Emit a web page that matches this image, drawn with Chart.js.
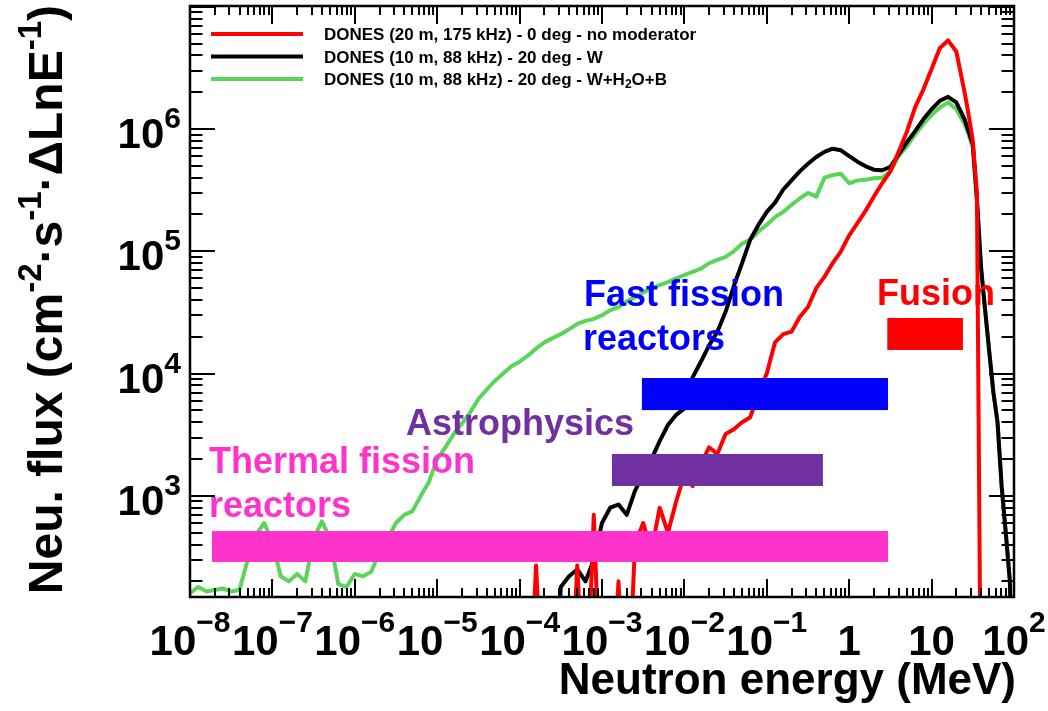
<!DOCTYPE html>
<html>
<head>
<meta charset="utf-8">
<script src="https://cdn.jsdelivr.net/npm/chart.js@4.4.0/dist/chart.umd.min.js"></script>
<style>
  body { margin: 0; background: #fff; }
</style>
</head>
<body>
<canvas id="chart" width="1048" height="711"></canvas>
<script>
// log10 of the neutron energy in MeV (0.1 decade steps, 0.05 at the high-energy end)
var logE = [
  -8.0, -7.9, -7.8, -7.7, -7.6, -7.5, -7.4, -7.3, -7.2, -7.1,
  -7.0, -6.9, -6.8, -6.7, -6.6, -6.5, -6.4, -6.3, -6.2, -6.1,
  -6.0, -5.9, -5.8, -5.7, -5.6, -5.5, -5.4, -5.3, -5.2, -5.1,
  -5.0, -4.9, -4.8, -4.7, -4.6, -4.5, -4.4, -4.3, -4.2, -4.1,
  -4.0, -3.9, -3.8, -3.7, -3.6, -3.5, -3.4, -3.3, -3.2, -3.1,
  -3.0, -2.9, -2.8, -2.7, -2.6, -2.5, -2.4, -2.3, -2.2, -2.1,
  -2.0, -1.9, -1.8, -1.7, -1.6, -1.5, -1.4, -1.3, -1.2, -1.1,
  -1.0, -0.9, -0.8, -0.7, -0.6, -0.5, -0.4, -0.3, -0.2, -0.1,
   0.0,  0.1,  0.2,  0.3,  0.4,  0.5,  0.6,  0.7,  0.8,  0.9,
   1.0,  1.1,  1.2,  1.3,  1.4,
   1.45, 1.5, 1.55, 1.6, 1.65, 1.7, 1.75, 1.8, 1.85, 1.9, 1.95, 2.0
];

// flux (cm-2 s-1 per unit lethargy); 10 = empty bin, below the axis
var fluxNoModerator = [
  10, 10, 10, 10, 10, 10, 10, 10, 10, 10,
  10, 10, 10, 10, 10, 10, 10, 10, 10, 10,
  10, 10, 10, 10, 10, 10, 10, 10, 10, 10,
  10, 10, 10, 10, 10, 10, 10, 10, 10, 10,
  10, 10, 270, 10, 10, 10, 10, 270, 10, 700,
  10, 10, 200, 10, 400, 600, 350, 800, 500, 900,
  1500, 1200, 1800, 2500, 2200, 3200, 3500, 4000, 4400, 7000,
  10000, 18000, 21000, 22000, 29000, 35000, 50000, 62000, 80000, 100000,
  135000, 170000, 215000, 280000, 360000, 450000, 650000, 950000, 1500000, 2100000,
  3100000, 4600000, 5300000, 4300000, 2000000,
  1300000, 800000, 300000, 10, 10, 10, 10, 10, 10, 10, 10, 10
];

var fluxW = [
  10, 10, 10, 10, 10, 10, 10, 10, 10, 10,
  10, 10, 10, 10, 10, 10, 10, 10, 10, 10,
  10, 10, 10, 10, 10, 10, 10, 10, 10, 10,
  10, 10, 10, 10, 10, 10, 10, 10, 10, 10,
  10, 10, 10, 10, 10, 180, 220, 250, 200, 300,
  600, 800, 850, 700, 1100, 1500, 2000, 2800, 3800, 4600,
  5200, 9300, 12500, 17000, 22000, 32000, 52000, 80000, 125000, 165000,
  210000, 250000, 320000, 380000, 450000, 520000, 590000, 650000, 690000, 670000,
  600000, 540000, 495000, 465000, 460000, 490000, 620000, 780000, 960000, 1200000,
  1450000, 1700000, 1830000, 1650000, 1200000,
  950000, 750000, 270000, 75000, 33000, 15000, 7000, 4000, 1200, 500, 200, 10
];

var fluxWH2OB = [
  160, 180, 165, 170, 175, 165, 170, 300, 480, 600,
  420, 220, 200, 230, 200, 450, 620, 450, 190, 180,
  230, 220, 240, 350, 450, 600, 700, 750, 1000, 1300,
  2000, 2500, 3200, 3900, 4800, 6200, 7400, 8700, 10000, 11500,
  12500, 14000, 16000, 18000, 19500, 21000, 23000, 25500, 27000, 28000,
  30000, 33000, 35000, 39000, 42000, 46000, 50000, 53000, 56000, 60000,
  64000, 68000, 72000, 80000, 85000, 90000, 100000, 115000, 125000, 145000,
  165000, 190000, 210000, 240000, 270000, 300000, 280000, 400000, 420000, 430000,
  360000, 380000, 385000, 395000, 400000, 450000, 600000, 720000, 900000, 1100000,
  1300000, 1500000, 1650000, 1450000, 1100000,
  900000, 700000, 250000, 70000, 32000, 15000, 7000, 4000, 1200, 500, 200, 10
];

var seriesLabels = [
  'DONES (20 m, 175 kHz) - 0 deg - no moderator',
  'DONES (10 m, 88 kHz) - 20 deg - W',
  'DONES (10 m, 88 kHz) - 20 deg - W+H_{2}O+B'
];
var seriesColors = ['#ff0000', '#000000', '#5ad55a'];

// application ranges: energy (MeV) and flux span of each box
var bandNames = ['Thermal fission reactors', 'Astrophysics', 'Fast fission reactors', 'Fusion'];
var bandEmin = [1.85e-8, 1.32e-3, 3.05e-3, 2.9];
var bandEmax = [2.96, 0.48, 2.96, 24];
var bandFluxLow = [288, 1205, 5030, 15600];
var bandFluxHigh = [516, 2200, 9200, 28500];
var bandColors = ['#ff33cc', '#7030a0', '#0000ff', '#ff0000'];

var xTickValues = [1e-8, 1e-7, 1e-6, 1e-5, 1e-4, 1e-3, 1e-2, 1e-1, 1, 10, 100];
var xTickLabels = ['10^{−8}', '10^{−7}', '10^{−6}', '10^{−5}', '10^{−4}', '10^{−3}',
                   '10^{−2}', '10^{−1}', '1', '10', '10^{2}'];
var yTickValues = [1e3, 1e4, 1e5, 1e6];
var yTickLabels = ['10^{3}', '10^{4}', '10^{5}', '10^{6}'];

var xTitle = 'Neutron energy (MeV)';
var yTitle = 'Neu. flux (cm^{-2}·s^{-1}·ΔLnE^{-1})';

var FONT = '"Liberation Sans", Arial, Helvetica, sans-serif';

function points(vals) {
  return logE.map(function (le, i) { return { x: Math.pow(10, le), y: vals[i] }; });
}

// split 'a^{b}c_{d}' into plain / sup / sub pieces
function richParts(str) {
  var parts = [], re = /([\^_])\{([^}]*)\}/g, last = 0, m;
  while ((m = re.exec(str))) {
    if (m.index > last) parts.push({ t: str.slice(last, m.index), k: '' });
    parts.push({ t: m[2], k: m[1] });
    last = re.lastIndex;
  }
  if (last < str.length) parts.push({ t: str.slice(last), k: '' });
  return parts;
}

function drawRich(ctx, str, x, y, size, small, rise, align) {
  var parts = richParts(str), w = 0;
  parts.forEach(function (p) {
    ctx.font = 'bold ' + (p.k ? small : size) + 'px ' + FONT;
    p.w = ctx.measureText(p.t).width;
    w += p.w;
  });
  var cx = align === 'center' ? x - w / 2 : (align === 'right' ? x - w : x);
  ctx.textAlign = 'left';
  ctx.textBaseline = 'alphabetic';
  parts.forEach(function (p) {
    ctx.font = 'bold ' + (p.k ? small : size) + 'px ' + FONT;
    var dy = p.k === '^' ? -rise : (p.k === '_' ? rise * 0.45 : 0);
    ctx.fillText(p.t, cx, y + dy);
    cx += p.w;
  });
}

var decor = {
  id: 'decor',
  afterDatasetsDraw: function (chart) {
    var ctx = chart.ctx, xs = chart.scales.x, ys = chart.scales.y, a = chart.chartArea;
    ctx.save();
    ctx.beginPath();
    ctx.rect(a.left, a.top, a.right - a.left, a.bottom - a.top);
    ctx.clip();
    for (var i = 0; i < bandNames.length; i++) {
      var x0 = xs.getPixelForValue(bandEmin[i]), x1 = xs.getPixelForValue(bandEmax[i]);
      var y0 = ys.getPixelForValue(bandFluxHigh[i]), y1 = ys.getPixelForValue(bandFluxLow[i]);
      ctx.fillStyle = bandColors[i];
      ctx.fillRect(x0, y0, x1 - x0, y1 - y0);
    }
    ctx.restore();

    // box captions
    ctx.save();
    ctx.font = 'bold 36px ' + FONT;
    ctx.textAlign = 'left';
    ctx.textBaseline = 'alphabetic';
    ctx.fillStyle = bandColors[0];
    ctx.fillText('Thermal fission', 209, 473);
    ctx.fillText('reactors', 209, 517);
    ctx.fillStyle = bandColors[1];
    ctx.fillText('Astrophysics', 406, 435);
    ctx.fillStyle = bandColors[2];
    ctx.fillText('Fast fission', 584, 306);
    ctx.fillText('reactors', 583, 350);
    ctx.fillStyle = bandColors[3];
    ctx.fillText('Fusion', 877, 305);

    // legend
    chart.data.datasets.forEach(function (ds, i) {
      var ly = 34 + i * 22.5;
      ctx.strokeStyle = ds.borderColor;
      ctx.lineWidth = 4;
      ctx.beginPath();
      ctx.moveTo(211, ly);
      ctx.lineTo(303, ly);
      ctx.stroke();
      ctx.fillStyle = '#000';
      drawRich(ctx, ds.label, 324, ly + 6, 17, 12, 6, 'left');
    });
    ctx.restore();
  },
  afterDraw: function (chart) {
    var ctx = chart.ctx, xs = chart.scales.x, ys = chart.scales.y, a = chart.chartArea;
    ctx.save();
    ctx.strokeStyle = '#000';
    ctx.fillStyle = '#000';

    // log ticks on all four sides, pointing inwards
    ctx.lineWidth = 2;
    ctx.beginPath();
    for (var d = -8; d <= 2; d++) {
      for (var m = 1; m <= 9; m++) {
        var v = m * Math.pow(10, d);
        if (v < xs.min * 0.999 || v > xs.max * 1.001) continue;
        var px = Math.round(xs.getPixelForValue(v));
        var len = m === 1 ? 18 : 9;
        ctx.moveTo(px, a.bottom); ctx.lineTo(px, a.bottom - len);
        ctx.moveTo(px, a.top); ctx.lineTo(px, a.top + len);
      }
    }
    for (var e = 2; e <= 7; e++) {
      for (var n = 1; n <= 9; n++) {
        var w = n * Math.pow(10, e);
        if (w < ys.min || w > ys.max) continue;
        var py = Math.round(ys.getPixelForValue(w));
        var l2 = n === 1 ? 25 : 12.5;
        ctx.moveTo(a.left, py); ctx.lineTo(a.left + l2, py);
        ctx.moveTo(a.right, py); ctx.lineTo(a.right - l2, py);
      }
    }
    ctx.stroke();
    ctx.lineWidth = 2.5;
    ctx.strokeRect(a.left, a.top, a.right - a.left, a.bottom - a.top);

    // tick labels
    xTickValues.forEach(function (v, i) {
      drawRich(ctx, xTickLabels[i], xs.getPixelForValue(v), 655, 42, 30, 23, 'center');
    });
    yTickValues.forEach(function (v, i) {
      drawRich(ctx, yTickLabels[i], 181, ys.getPixelForValue(v) + 19, 42, 30, 20, 'right');
    });

    // axis titles
    drawRich(ctx, xTitle, a.right + 2, 694, 44, 30, 20, 'right');
    ctx.translate(62, a.top - 1);
    ctx.rotate(-Math.PI / 2);
    drawRich(ctx, yTitle, 0, 0, 48, 33, 21, 'right');
    ctx.restore();
  }
};

new Chart('chart', {
  type: 'line',
  data: {
    datasets: [
      { label: seriesLabels[0], data: points(fluxNoModerator), borderColor: seriesColors[0] },
      { label: seriesLabels[1], data: points(fluxW), borderColor: seriesColors[1] },
      { label: seriesLabels[2], data: points(fluxWH2OB), borderColor: seriesColors[2] }
    ]
  },
  options: {
    responsive: false,
    animation: false,
    devicePixelRatio: 1,
    layout: { padding: { left: 190, right: 34, top: 6, bottom: 114 } },
    datasets: {
      line: { tension: 0, borderWidth: 4, borderJoinStyle: 'round', pointRadius: 0, fill: false, clip: 0 }
    },
    scales: {
      x: { type: 'logarithmic', min: 1e-8, max: 100, display: false },
      y: { type: 'logarithmic', min: 149, max: 1.013e7, display: false }
    },
    plugins: { legend: { display: false }, tooltip: { enabled: false } }
  },
  plugins: [decor]
});
</script>
</body>
</html>
